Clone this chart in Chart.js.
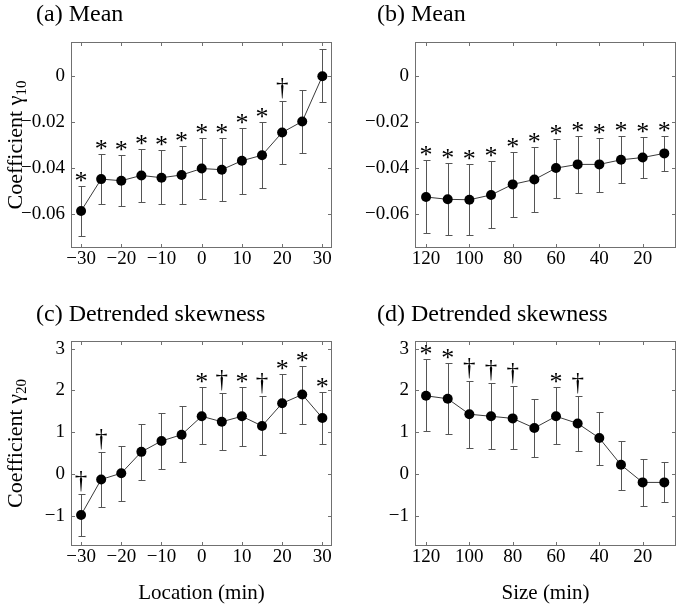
<!DOCTYPE html>
<html>
<head>
<meta charset="utf-8">
<script src="https://cdn.jsdelivr.net/npm/chart.js@4.4.1/dist/chart.umd.min.js"></script>
<style>
  body { margin: 0; background: #fff; }
  #wrap { position: relative; width: 683px; height: 609px; }
  #wrap canvas { position: absolute; }
</style>
</head>
<body>
<div id="wrap">
  <canvas id="panelA" width="341" height="300" style="left:0;top:0"></canvas>
  <canvas id="panelB" width="342" height="300" style="left:341px;top:0"></canvas>
  <canvas id="panelC" width="341" height="309" style="left:0;top:300px"></canvas>
  <canvas id="panelD" width="342" height="309" style="left:341px;top:300px"></canvas>
</div>
<script>
// x positions
const locX = [-30, -25, -20, -15, -10, -5, 0, 5, 10, 15, 20, 25, 30];
const sizeX = [120, 110, 100, 90, 80, 70, 60, 50, 40, 30, 20, 10];

// tick labels
const locTicks = [-30, -20, -10, 0, 10, 20, 30];
const sizeTicks = [120, 100, 80, 60, 40, 20];
const meanTicks = [-0.06, -0.04, -0.02, 0];
const skewTicks = [-1, 0, 1, 2, 3];

// (a) mean vs location
const meanLoc   = [-0.0587, -0.0448, -0.0455, -0.0432, -0.0442, -0.0430, -0.0402, -0.0407, -0.0368, -0.0344, -0.0245, -0.0197, 0];
const meanLocHi = [-0.0477, -0.0338, -0.0343, -0.0316, -0.0323, -0.0304, -0.0271, -0.0271, -0.0227, -0.0201, -0.0106, -0.0060, 0.0117];
const meanLocLo = [-0.0697, -0.0558, -0.0567, -0.0547, -0.0557, -0.0556, -0.0533, -0.0543, -0.0513, -0.0488, -0.0383, -0.0336, -0.0112];
const meanLocSig = ['*', '*', '*', '*', '*', '*', '*', '*', '*', '*', '†', '', ''];

// (b) mean vs size
const meanSize   = [-0.0526, -0.0536, -0.0538, -0.0517, -0.0471, -0.0450, -0.0400, -0.0384, -0.0384, -0.0364, -0.0354, -0.0336];
const meanSizeHi = [-0.0365, -0.0378, -0.0382, -0.0369, -0.0332, -0.0308, -0.0273, -0.0261, -0.0267, -0.0262, -0.0264, -0.0259];
const meanSizeLo = [-0.0684, -0.0693, -0.0693, -0.0663, -0.0613, -0.0591, -0.0530, -0.0510, -0.0503, -0.0465, -0.0445, -0.0412];
const meanSizeSig = ['*', '*', '*', '*', '*', '*', '*', '*', '*', '*', '*', '*'];

// (c) detrended skewness vs location
const skewLoc   = [-0.98, -0.13, 0.02, 0.53, 0.79, 0.94, 1.38, 1.25, 1.38, 1.15, 1.69, 1.90, 1.34];
const skewLocHi = [-0.48, 0.52, 0.67, 1.20, 1.47, 1.62, 2.08, 1.94, 2.09, 1.87, 2.40, 2.59, 1.97];
const skewLocLo = [-1.48, -0.79, -0.65, -0.14, 0.12, 0.28, 0.71, 0.57, 0.68, 0.46, 0.99, 1.19, 0.72];
const skewLocSig = ['†', '†', '', '', '', '', '*', '†', '*', '†', '*', '*', '*'];

// (d) detrended skewness vs size
const skewSize   = [1.87, 1.80, 1.43, 1.38, 1.33, 1.10, 1.38, 1.21, 0.86, 0.22, -0.20, -0.20];
const skewSizeHi = [2.75, 2.65, 2.23, 2.17, 2.10, 1.80, 2.08, 1.86, 1.48, 0.80, 0.35, 0.29];
const skewSizeLo = [1.02, 0.95, 0.62, 0.60, 0.59, 0.40, 0.71, 0.55, 0.22, -0.38, -0.76, -0.68];
const skewSizeSig = ['*', '*', '†', '†', '†', '', '*', '†', '', '', '', ''];

const SERIF = '"Liberation Serif", "Times New Roman", serif';

function meanLabel(v) {
  if (v === 0) return '0';
  return (v < 0 ? '\u2212' : '') + Math.abs(v).toFixed(2);
}
function skewLabel(v) {
  return (v < 0 ? '\u2212' : '') + Math.abs(v);
}

// frame, inward ticks, error bars, significance marks and text
function makeDeco(p) {
  return {
    id: 'deco',
    beforeDatasetsDraw(chart) {
      const ctx = chart.ctx, a = chart.chartArea;
      const x = chart.scales.x, y = chart.scales.y;
      ctx.save();
      ctx.strokeStyle = '#707070';
      ctx.lineWidth = 1;
      ctx.strokeRect(Math.round(a.left) + 0.5, Math.round(a.top) + 0.5,
        Math.round(a.right - a.left) - 1, Math.round(a.bottom - a.top) - 1);
      ctx.beginPath();
      p.xTicks.forEach(v => {
        const px = Math.round(x.getPixelForValue(v)) + 0.5;
        ctx.moveTo(px, a.bottom); ctx.lineTo(px, a.bottom - 4);
        ctx.moveTo(px, a.top); ctx.lineTo(px, a.top + 4);
      });
      p.yTicks.forEach(v => {
        const py = Math.round(y.getPixelForValue(v)) + 0.5;
        ctx.moveTo(a.left, py); ctx.lineTo(a.left + 4, py);
        ctx.moveTo(a.right, py); ctx.lineTo(a.right - 4, py);
      });
      ctx.stroke();

      // error bars
      ctx.strokeStyle = '#555';
      ctx.beginPath();
      p.xs.forEach((xv, i) => {
        const px = Math.round(x.getPixelForValue(xv)) + 0.5;
        const t = Math.round(y.getPixelForValue(p.hi[i])) + 0.5;
        const b = Math.round(y.getPixelForValue(p.lo[i])) + 0.5;
        ctx.moveTo(px, t); ctx.lineTo(px, b);
        ctx.moveTo(px - 3, t); ctx.lineTo(px + 4, t);
        ctx.moveTo(px - 3, b); ctx.lineTo(px + 4, b);
      });
      ctx.stroke();
      ctx.restore();
    },
    afterDatasetsDraw(chart) {
      const ctx = chart.ctx, a = chart.chartArea;
      const x = chart.scales.x, y = chart.scales.y;
      ctx.save();
      ctx.fillStyle = '#000';
      ctx.textAlign = 'center';
      ctx.textBaseline = 'alphabetic';
      p.xs.forEach((xv, i) => {
        const s = p.sig[i];
        if (!s) return;
        const px = x.getPixelForValue(xv);
        const t = y.getPixelForValue(p.hi[i]);
        if (s === '*') {
          ctx.font = '26px ' + SERIF;
          ctx.fillText('*', px, t + 3);
        } else {
          ctx.font = '25px ' + SERIF;
          ctx.fillText('†', px, t - 6);
        }
      });

      // panel title
      ctx.textAlign = 'left';
      ctx.textBaseline = 'middle';
      ctx.font = '24px ' + SERIF;
      ctx.fillText(p.title, 36, 15);

      // y axis label with subscript
      if (p.yLabel) {
        const cy = (a.top + a.bottom) / 2;
        ctx.save();
        ctx.translate(16, cy);
        ctx.rotate(-Math.PI / 2);
        ctx.font = '22px ' + SERIF;
        const w1 = ctx.measureText(p.yLabel).width;
        ctx.font = '15px ' + SERIF;
        const w2 = ctx.measureText(p.ySub).width;
        const x0 = -(w1 + w2) / 2;
        ctx.font = '22px ' + SERIF;
        ctx.fillText(p.yLabel, x0, 0);
        ctx.font = '15px ' + SERIF;
        ctx.fillText(p.ySub, x0 + w1, 6);
        ctx.restore();
      }

      // x axis label
      if (p.xLabel) {
        ctx.textAlign = 'center';
        ctx.font = '21px ' + SERIF;
        ctx.fillText(p.xLabel, (a.left + a.right) / 2, 293);
      }
      ctx.restore();
    }
  };
}

function makePanel(id, p) {
  const data = p.xs.map((xv, i) => ({ x: xv, y: p.ys[i] }));
  return new Chart(document.getElementById(id).getContext('2d'), {
    type: 'line',
    data: {
      datasets: [{
        data: data,
        borderColor: '#3a3a3a',
        borderWidth: 1,
        pointRadius: 5,
        pointHoverRadius: 5,
        pointBackgroundColor: '#000',
        pointBorderColor: '#000',
        pointBorderWidth: 0,
        tension: 0
      }]
    },
    options: {
      responsive: false,
      animation: false,
      devicePixelRatio: 1,
      layout: { padding: { left: 0, right: p.padRight, top: p.top, bottom: 0 } },
      plugins: { legend: { display: false }, tooltip: { enabled: false }, title: { display: false } },
      scales: {
        x: {
          type: 'linear',
          min: p.xMin, max: p.xMax,
          reverse: !!p.reverse,
          grid: { display: false, drawTicks: false },
          border: { display: false },
          afterBuildTicks: s => { s.ticks = p.xTicks.map(v => ({ value: v })); },
          afterFit: s => { s.height = p.xHeight; },
          ticks: {
            padding: 0,
            color: '#000',
            maxRotation: 0,
            autoSkip: false,
            font: { family: SERIF, size: 19 },
            callback: v => skewLabel(v)
          }
        },
        y: {
          min: p.yMin, max: p.yMax,
          grid: { display: false, drawTicks: false },
          border: { display: false },
          afterBuildTicks: s => { s.ticks = p.yTicks.map(v => ({ value: v })); },
          afterFit: s => { s.width = p.yWidth; },
          ticks: {
            padding: 6,
            color: '#000',
            autoSkip: false,
            font: { family: SERIF, size: 19 },
            callback: p.fmt
          }
        }
      }
    },
    plugins: [makeDeco(p)]
  });
}

makePanel('panelA', {
  title: '(a) Mean', xs: locX, ys: meanLoc, hi: meanLocHi, lo: meanLocLo, sig: meanLocSig,
  xTicks: locTicks, yTicks: meanTicks, fmt: meanLabel,
  xMin: -32.5, xMax: 32.4, yMin: -0.0748, yMax: 0.0149,
  top: 42, padRight: 9, yWidth: 71, xHeight: 52,
  yLabel: 'Coefficient γ', ySub: '10'
});
makePanel('panelB', {
  title: '(b) Mean', xs: sizeX, ys: meanSize, hi: meanSizeHi, lo: meanSizeLo, sig: meanSizeSig,
  xTicks: sizeTicks, yTicks: meanTicks, fmt: meanLabel, reverse: true,
  xMin: 4.6, xMax: 125.1, yMin: -0.0748, yMax: 0.0149,
  top: 42, padRight: 7, yWidth: 74, xHeight: 52
});
makePanel('panelC', {
  title: '(c) Detrended skewness', xs: locX, ys: skewLoc, hi: skewLocHi, lo: skewLocLo, sig: skewLocSig,
  xTicks: locTicks, yTicks: skewTicks, fmt: skewLabel,
  xMin: -32.5, xMax: 32.4, yMin: -1.72, yMax: 3.18,
  top: 41, padRight: 9, yWidth: 71, xHeight: 63,
  yLabel: 'Coefficient γ', ySub: '20', xLabel: 'Location (min)'
});
makePanel('panelD', {
  title: '(d) Detrended skewness', xs: sizeX, ys: skewSize, hi: skewSizeHi, lo: skewSizeLo, sig: skewSizeSig,
  xTicks: sizeTicks, yTicks: skewTicks, fmt: skewLabel, reverse: true,
  xMin: 4.6, xMax: 125.1, yMin: -1.72, yMax: 3.18,
  top: 41, padRight: 7, yWidth: 74, xHeight: 63,
  xLabel: 'Size (min)'
});
</script>
</body>
</html>
